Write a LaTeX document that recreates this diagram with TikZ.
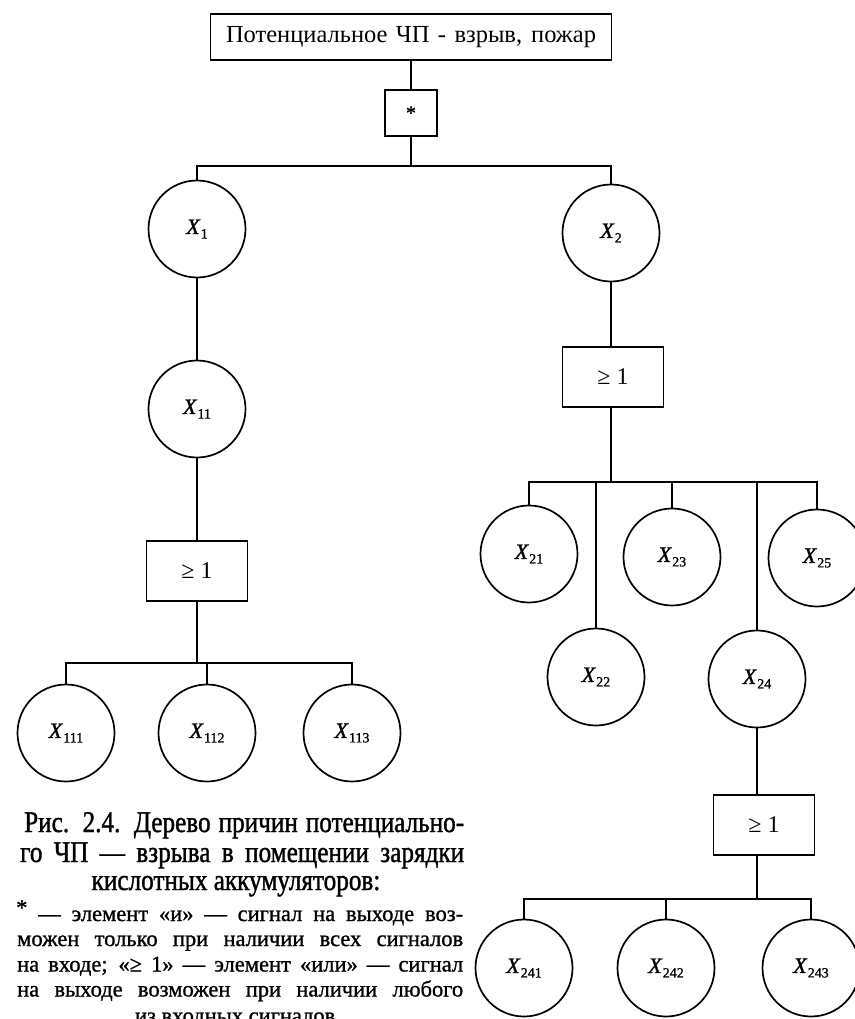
\documentclass[tikz,border=0pt]{standalone}
\usepackage{fontspec}
\setmainfont{Liberation Serif}
\newfontfamily\capfont[FakeStretch=0.84,FakeBold=1.2]{Liberation Serif}
\newfontfamily\notefont[FakeStretch=1.0,FakeBold=1.0]{Liberation Serif}
\newfontfamily\lblfont[FakeBold=1.2]{Liberation Serif}
\newcommand\evlbl[1]{\textit{X}\kern0.3pt\raisebox{-4.5pt}{\fontsize{14}{14}\selectfont #1}}
\begin{document}
\begin{tikzpicture}[x=1pt,y=-1pt,
  ev/.style={circle,draw,line width=1.7pt,minimum size=97pt,inner sep=0pt,font=\lblfont\fontsize{22}{22}\selectfont},
  gatebox/.style={rectangle,draw,line width=1.7pt,minimum width=101pt,minimum height=60pt,inner sep=0pt,font=\fontsize{24}{24}\selectfont},
  wire/.style={line width=1.5pt},
  capline/.style={anchor=base west,inner sep=0pt,font=\capfont\fontsize{30}{30}\selectfont},
  noteline/.style={anchor=base west,inner sep=0pt,font=\notefont\fontsize{22.5}{22.5}\selectfont}]
\useasboundingbox (0,0) rectangle (854,1019);
\fill[white] (0,0) rectangle (854,1019);

% top event and AND gate
\node[draw,line width=1.7pt,minimum width=401pt,minimum height=46pt,inner sep=0pt,font=\fontsize{24.5}{24.5}\selectfont] (top) at (411,37) {\makebox[370pt][s]{Потенциальное ЧП - взрыв, пожар}};
\node[draw,line width=1.7pt,minimum width=52pt,minimum height=46pt,inner sep=0pt,font=\lblfont\fontsize{20}{20}\selectfont] (andg) at (411,113) {\raisebox{-6pt}{*}};
\coordinate (b0) at (0,166);

\node[ev] (x1) at (197,229) {\evlbl{1}};
\node[ev] (x2) at (611,233) {\evlbl{2}};
\node[ev] (x11) at (197,409) {\evlbl{11}};
\node[gatebox] (g1) at (197,571) {≥ 1};
\coordinate (b1) at (0,663);
\node[ev] (x111) at (66,733) {\evlbl{111}};
\node[ev] (x112) at (207,733) {\evlbl{112}};
\node[ev] (x113) at (352,733) {\evlbl{113}};

\node[gatebox] (g2) at (613,377) {≥ 1};
\coordinate (b2) at (0,482);
\node[ev] (x21) at (529,554) {\evlbl{21}};
\node[ev] (x22) at (596,677) {\evlbl{22}};
\node[ev] (x23) at (672,557) {\evlbl{23}};
\node[ev] (x24) at (757,679) {\evlbl{24}};
\node[ev] (x25) at (817,558) {\evlbl{25}};
\node[gatebox] (g3) at (764,825) {≥ 1};
\coordinate (b3) at (0,899);
\node[ev] (x241) at (524,968) {\evlbl{241}};
\node[ev] (x242) at (666,968) {\evlbl{242}};
\node[ev] (x243) at (811,968) {\evlbl{243}};

% connectors
\draw[wire] (top.south) -- (andg.north);
\draw[wire] (andg.south) -- (andg.south |- b0);
\draw[wire] (x1.north) |- (x2.north |- b0) -- (x2.north);
\draw[wire] (x1.south) -- (x11.north);
\draw[wire] (x11.south) -- (g1.north);
\draw[wire] (g1.south) -- (g1.south |- b1);
\draw[wire] (x111.north) |- (x113.north |- b1) -- (x113.north);
\draw[wire] (x112.north) -- (x112.north |- b1);

\draw[wire] (x2.south) -- (x2.south |- g2.north);
\draw[wire] (g2.south -| x2.south) -- (x2.south |- b2);
\draw[wire] (x21.north) |- (x25.north |- b2) -- (x25.north);
\draw[wire] (x22.north) -- (x22.north |- b2);
\draw[wire] (x23.north) -- (x23.north |- b2);
\draw[wire] (x24.north) -- (x24.north |- b2);
\draw[wire] (x24.south) -- (x24.south |- g3.north);
\draw[wire] (g3.south -| x24.south) -- (x24.south |- b3);
\draw[wire] (x241.north) |- (x243.north |- b3) -- (x243.north);
\draw[wire] (x242.north) -- (x242.north |- b3);

% caption
\node[capline] (c1) at (24,832) {\makebox[440pt][s]{Рис. 2.4. Дерево причин потенциально-}};
\node[capline] (c2) at (20,862) {\makebox[444pt][s]{го ЧП — взрыва в помещении зарядки}};
\node[anchor=base,inner sep=0pt,font=\capfont\fontsize{30}{30}\selectfont] (c3) at (236,890) {кислотных аккумуляторов:};
\node[noteline] (n1) at (16,921) {\makebox[447pt][s]{\raisebox{6pt}{*} — элемент «и» — сигнал на выходе воз-}};
\node[noteline] (n2) at (17,946) {\makebox[446pt][s]{можен только при наличии всех сигналов}};
\node[noteline] (n3) at (17,971.5) {\makebox[446pt][s]{на входе; «≥ 1» — элемент «или» — сигнал}};
\node[noteline] (n4) at (17,996.5) {\makebox[446pt][s]{на выходе возможен при наличии любого}};
\node[anchor=base,inner sep=0pt,font=\notefont\fontsize{22.5}{22.5}\selectfont] (n5) at (238,1023) {из входных сигналов.};
\end{tikzpicture}
\end{document}
